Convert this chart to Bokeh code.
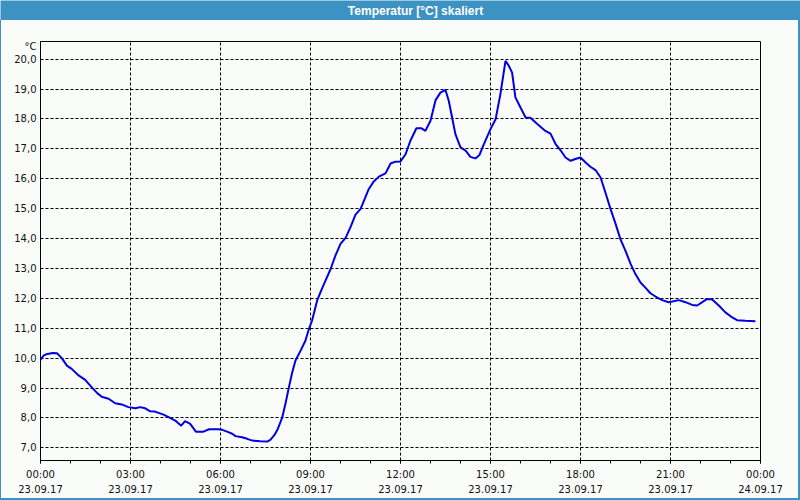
from bokeh.plotting import figure
from bokeh.models import Range1d, FixedTicker, Label, Spacer
from bokeh.layouts import column, row
from bokeh.embed import file_html
from bokeh.resources import INLINE

title_text = "Temperatur [°C] skaliert"
unit_label = "°C"

hours = [0.00, 0.10, 0.20, 0.40, 0.55, 0.71, 0.88, 1.04, 1.27, 1.49, 1.71, 1.90,
         2.04, 2.27, 2.49, 2.71, 2.93, 3.16, 3.32, 3.49, 3.66, 3.82, 4.10, 4.32,
         4.49, 4.69, 4.82, 4.99, 5.18, 5.43, 5.62, 5.93, 6.06, 6.22, 6.39, 6.50,
         6.72, 6.89, 7.06, 7.33, 7.56, 7.67, 7.80, 7.91, 8.06, 8.17, 8.28, 8.39,
         8.50, 8.67, 8.83, 8.94, 9.05, 9.11, 9.22, 9.33, 9.50, 9.67, 9.83, 10.00,
         10.17, 10.33, 10.50, 10.67, 10.78, 10.94, 11.11, 11.28, 11.50, 11.67, 11.83, 12.00,
         12.17, 12.33, 12.53, 12.69, 12.83, 13.00, 13.17, 13.33, 13.50, 13.61, 13.72, 13.83,
         14.00, 14.17, 14.33, 14.50, 14.63, 14.78, 15.00, 15.17, 15.33, 15.50, 15.61, 15.72,
         15.83, 16.00, 16.17, 16.33, 16.56, 16.83, 17.00, 17.17, 17.33, 17.50, 17.67, 17.83,
         18.00, 18.17, 18.33, 18.50, 18.67, 18.83, 19.00, 19.17, 19.33, 19.50, 19.67, 19.83,
         20.00, 20.17, 20.33, 20.50, 20.72, 20.94, 21.06, 21.28, 21.50, 21.72, 21.89, 22.06,
         22.22, 22.39, 22.61, 22.83, 23.06, 23.22, 23.50, 23.83]

temps = [9.94, 10.08, 10.13, 10.17, 10.16, 10.00, 9.75, 9.64, 9.42, 9.27, 9.02, 8.82,
         8.71, 8.64, 8.49, 8.45, 8.36, 8.32, 8.36, 8.32, 8.22, 8.21, 8.11, 8.00,
         7.91, 7.74, 7.89, 7.80, 7.54, 7.54, 7.62, 7.62, 7.60, 7.54, 7.47, 7.39,
         7.35, 7.30, 7.24, 7.22, 7.21, 7.27, 7.43, 7.63, 8.02, 8.50, 9.02, 9.52,
         9.92, 10.25, 10.58, 10.95, 11.25, 11.48, 11.92, 12.20, 12.59, 12.98, 13.43, 13.82,
         14.02, 14.37, 14.80, 14.99, 15.26, 15.65, 15.91, 16.07, 16.18, 16.51, 16.57, 16.58,
         16.82, 17.27, 17.69, 17.69, 17.60, 17.94, 18.63, 18.88, 18.97, 18.60, 18.05, 17.49,
         17.05, 16.94, 16.73, 16.68, 16.79, 17.16, 17.66, 17.99, 18.83, 19.94, 19.78, 19.55,
         18.72, 18.38, 18.05, 18.04, 17.83, 17.60, 17.51, 17.16, 16.96, 16.71, 16.60, 16.66,
         16.71, 16.54, 16.40, 16.29, 16.04, 15.54, 14.99, 14.49, 13.98, 13.59, 13.15, 12.81,
         12.53, 12.35, 12.17, 12.06, 11.94, 11.87, 11.89, 11.94, 11.87, 11.78, 11.76, 11.87,
         11.98, 11.96, 11.76, 11.53, 11.36, 11.27, 11.25, 11.23]

y_ticks = [7, 8, 9, 10, 11, 12, 13, 14, 15, 16, 17, 18, 19, 20]
y_tick_labels = ["7,0", "8,0", "9,0", "10,0", "11,0", "12,0", "13,0", "14,0",
                 "15,0", "16,0", "17,0", "18,0", "19,0", "20,0"]
unit_tick = 20.41
x_ticks = [0, 3, 6, 9, 12, 15, 18, 21, 24]
x_tick_labels = ["00:00\n23.09.17", "03:00\n23.09.17", "06:00\n23.09.17",
                 "09:00\n23.09.17", "12:00\n23.09.17", "15:00\n23.09.17",
                 "18:00\n23.09.17", "21:00\n23.09.17", "00:00\n24.09.17"]
x_minor_ticks = list(range(0, 25))

BLUE = "#3d92c4"
BG = "#fafcfa"
LINE = "#0000e0"
FONT = "DejaVu Sans"

header = figure(width=800, height=20, x_range=Range1d(0, 800), y_range=Range1d(0, 20),
                toolbar_location=None, output_backend="svg", min_border=0,
                x_axis_location=None, y_axis_location=None,
                background_fill_color=BLUE, border_fill_color=BLUE,
                outline_line_color=None)
header.center = []
header.add_layout(Label(x=415, y=10, text=title_text, text_align="center",
                        text_baseline="middle", text_color="white",
                        text_font="Liberation Sans", text_font_style="bold",
                        text_font_size="12px"))

p = figure(width=797, height=478, x_range=Range1d(0, 24), y_range=Range1d(6.575, 20.59),
           toolbar_location=None, output_backend="svg",
           min_border_left=39, min_border_right=38, min_border_top=21, min_border_bottom=38,
           background_fill_color=BG, border_fill_color=BG,
           outline_line_color="black", outline_line_width=1)

p.line(hours, temps, line_color=LINE, line_width=2)

xa = p.xaxis[0]
xa.ticker = FixedTicker(ticks=x_ticks, minor_ticks=x_minor_ticks)
xa.major_label_overrides = dict(zip(x_ticks, x_tick_labels))
xa.major_tick_out = 3
xa.major_tick_in = 0
xa.minor_tick_out = 3
xa.minor_tick_in = 0
xa.major_tick_line_color = "black"
xa.minor_tick_line_color = "black"
xa.axis_line_color = "black"
xa.major_label_text_font = FONT
xa.major_label_text_font_size = "10px"
xa.major_label_text_color = "#111111"
xa.major_label_standoff = 5
xa.major_label_text_line_height = 1.4

ya = p.yaxis[0]
ya.ticker = FixedTicker(ticks=y_ticks + [unit_tick], minor_ticks=[])
overrides = dict(zip(y_ticks, y_tick_labels))
overrides[unit_tick] = unit_label
ya.major_label_overrides = overrides
ya.major_tick_out = 0
ya.major_tick_in = 0
ya.minor_tick_out = 0
ya.axis_line_color = "black"
ya.major_label_text_font = FONT
ya.major_label_text_font_size = "10px"
ya.major_label_text_color = "#111111"
ya.major_label_standoff = 4

p.xgrid[0].ticker = FixedTicker(ticks=x_ticks)
p.ygrid[0].ticker = FixedTicker(ticks=y_ticks)
for g in (p.xgrid[0], p.ygrid[0]):
    g.grid_line_color = "black"
    g.grid_line_dash = "3 2"
    g.grid_line_width = 1

left_edge = Spacer(width=1, height=478, styles={"background-color": BLUE})
right_edge = Spacer(width=2, height=478, styles={"background-color": BLUE})
bottom_edge = Spacer(width=800, height=2, styles={"background-color": BLUE})

layout = column(header, row(left_edge, p, right_edge, spacing=0), bottom_edge, spacing=0)
open("out.html", "w").write(file_html(layout, INLINE))
